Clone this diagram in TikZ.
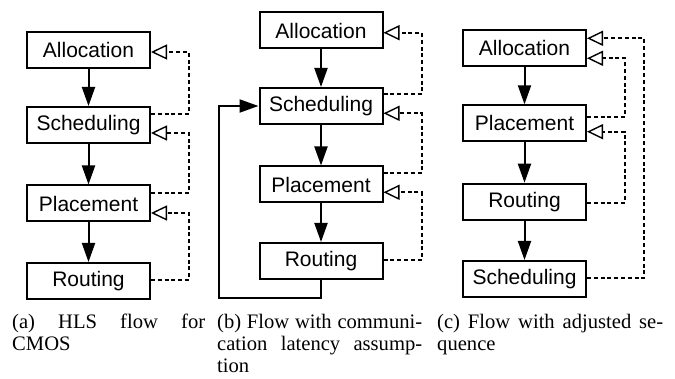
\documentclass[tikz,border=0pt]{standalone}
\usepackage{fontspec}
\setmainfont{Liberation Sans}
\newfontfamily\capfont{Liberation Serif}
\usetikzlibrary{arrows.meta}
\begin{document}
\begin{tikzpicture}[x=1pt,y=-1pt,
  stage/.style={draw,line width=2pt,minimum width=123pt,minimum height=36pt,inner sep=0pt,
    font=\fontsize{21}{25}\selectfont},
  flow/.style={line width=2pt,-{Triangle[length=19pt,width=13pt]}},
  fb/.style={line width=2pt,dash pattern=on 4pt off 2.8pt,
    -{Triangle[open,length=16pt,width=15pt,line width=1.4pt]}},
  captext/.style={anchor=base west,inner sep=0pt}]
\useasboundingbox (0,0) rectangle (675,379);
% panel (a)
\node[stage] (aa) at (88.5,50) {Allocation};
\node[stage] (sa) at (88.5,125) {Scheduling};
\node[stage] (pa) at (88.5,203.5) {Placement};
\node[stage] (ra) at (88.5,281) {Routing};
\draw[flow] (aa) -- (sa);
\draw[flow] (sa) -- (pa);
\draw[flow] (pa) -- (ra);
\draw[fb] ([yshift=11pt]sa.east) -- ++(38,0) |- ([yshift=-2pt]aa.east);
\draw[fb] ([yshift=10.5pt]pa.east) -- ++(38,0) |- ([yshift=-8pt]sa.east);
\draw[fb] ([yshift=1pt]ra.east) -- ++(38,0) |- ([yshift=-9.5pt]pa.east);
% panel (b)
\node[stage] (ab) at (321,30.5) {Allocation};
\node[stage] (sb) at (321,106) {Scheduling};
\node[stage] (pb) at (321,184.5) {Placement};
\node[stage] (rb) at (321,261) {Routing};
\draw[flow] (ab) -- (sb);
\draw[flow] (sb) -- (pb);
\draw[flow] (pb) -- (rb);
\coordinate (bl) at (219.3,297.7);
\draw[flow] (rb.south) |- (bl) |- (sb.west);
\draw[fb] ([yshift=11.7pt]sb.east) -- ++(38,0) |- ([yshift=-2.2pt]ab.east);
\draw[fb] ([yshift=11.2pt]pb.east) -- ++(38,0) |- ([yshift=-7.3pt]sb.east);
\draw[fb] ([yshift=1pt]rb.east) -- ++(38,0) |- ([yshift=-7.8pt]pb.east);
% panel (c)
\node[stage] (ac) at (524.5,48.3) {Allocation};
\node[stage] (pc) at (524.5,123.3) {Placement};
\node[stage] (rc) at (524.5,201.7) {Routing};
\node[stage] (sc) at (524.5,279) {Scheduling};
\draw[flow] (ac) -- (pc);
\draw[flow] (pc) -- (rc);
\draw[flow] (rc) -- (sc);
\draw[fb] ([yshift=0.7pt]sc.east) -- ++(57.3,0) |- ([yshift=10pt]ac.east);
\draw[fb] ([yshift=6.6pt]pc.east) -- ++(38,0) |- ([yshift=-10pt]ac.east);
\draw[fb] ([yshift=-1pt]rc.east) -- ++(38,0) |- ([yshift=-8.4pt]pc.east);
% captions
\node[captext] (ca) at (12,329) {\parbox[t]{193pt}{\capfont\fontsize{20.6}{21.7}\selectfont
  (a) HLS flow for\linebreak CMOS}};
\node[captext] (cb) at (217,329) {\parbox[t]{205pt}{\capfont\fontsize{20.6}{21.7}\selectfont
  (b) Flow with communi-\linebreak cation latency assump-\linebreak tion}};
\node[captext] (cc) at (437,329) {\parbox[t]{226pt}{\capfont\fontsize{20.6}{21.7}\selectfont
  (c) Flow with adjusted se-\linebreak quence}};
\end{tikzpicture}
\end{document}
